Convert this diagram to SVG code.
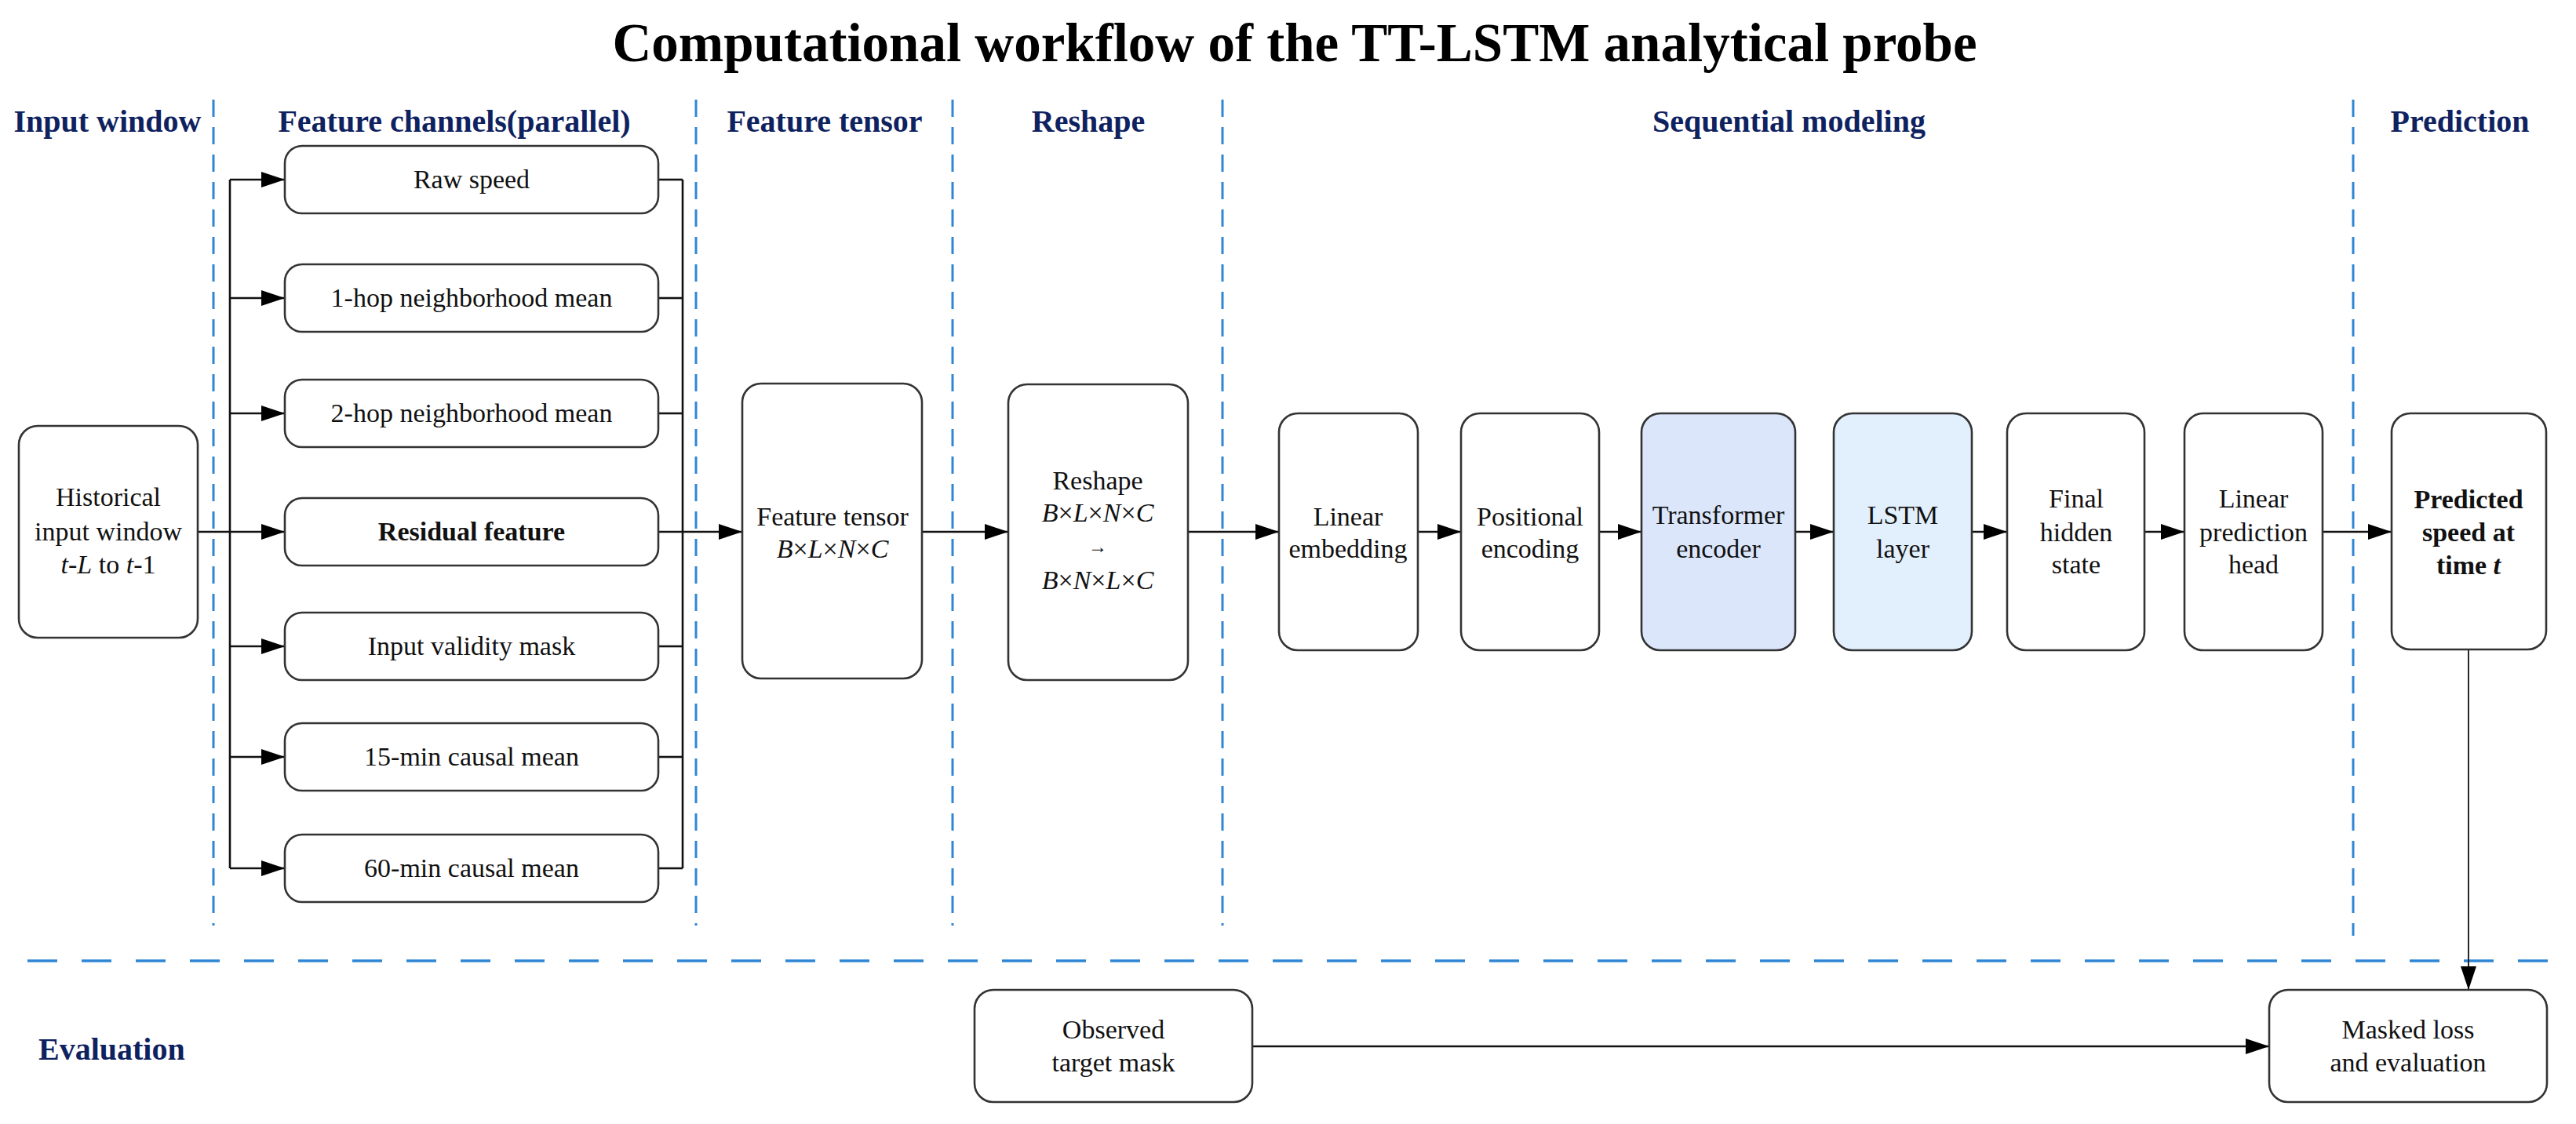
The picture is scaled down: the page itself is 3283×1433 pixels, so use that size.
<svg xmlns="http://www.w3.org/2000/svg" width="3283" height="1433" viewBox="0 0 3283 1433">
<style>
.bg{fill:#ffffff}
.box{fill:#ffffff;stroke:#333333;stroke-width:2.6}
.te{fill:#dbe6fb}
.lstm{fill:#e2effd}
.t{font-family:"Liberation Serif","Times New Roman",serif;font-size:34px;fill:#111111;text-anchor:middle}
.b{font-weight:bold}
.i{font-style:italic}
.hd{font-family:"Liberation Serif","Times New Roman",serif;font-size:40px;font-weight:bold;fill:#0f2260;text-anchor:middle}
.title{font-family:"Liberation Serif","Times New Roman",serif;font-size:69px;font-weight:bold;fill:#000000;text-anchor:middle}
.vd{stroke:#2f86d4;stroke-width:3;stroke-dasharray:22 13;fill:none}
.hdash{stroke:#2f86d4;stroke-width:3.5;stroke-dasharray:38 31;fill:none}
.ln{stroke:#111111;stroke-width:2.6;fill:none}
.ar{stroke:#111111;stroke-width:2.6;fill:none;marker-end:url(#ah)}
.arv{stroke:#111111;stroke-width:1.8;fill:none;marker-end:url(#ahv)}
</style>
<defs>
<marker id="ah" markerUnits="userSpaceOnUse" markerWidth="30" markerHeight="20" refX="30" refY="10" orient="auto">
<path d="M0,0 L30,10 L0,20 z" fill="#000000"/>
</marker>
<marker id="ahv" markerUnits="userSpaceOnUse" markerWidth="30" markerHeight="20" refX="30" refY="10" orient="auto">
<path d="M0,0 L30,10 L0,20 z" fill="#000000"/>
</marker>
</defs>
<rect class="bg" x="0" y="0" width="3283" height="1433"/>

<text class="title" x="1650" y="78">Computational workflow of the TT-LSTM analytical probe</text>

<g id="lanes">
<line class="vd" x1="272" y1="127" x2="272" y2="1180"/>
<line class="vd" x1="887" y1="127" x2="887" y2="1180"/>
<line class="vd" x1="1214" y1="127" x2="1214" y2="1180"/>
<line class="vd" x1="1558" y1="127" x2="1558" y2="1180"/>
<line class="vd" x1="2999" y1="127" x2="2999" y2="1193"/>
<line class="hdash" x1="35" y1="1225" x2="3262" y2="1225"/>
<text class="hd" x="137" y="168">Input window</text>
<text class="hd" x="579" y="168">Feature channels(parallel)</text>
<text class="hd" x="1051" y="168">Feature tensor</text>
<text class="hd" x="1387" y="168">Reshape</text>
<text class="hd" x="2280" y="168">Sequential modeling</text>
<text class="hd" x="3135" y="168">Prediction</text>
<text class="hd" x="49" y="1351" style="text-anchor:start">Evaluation</text>
</g>

<g id="connectors">
<line class="ln" x1="293" y1="229" x2="293" y2="1107"/>
<line class="ar" x1="293" y1="229" x2="363" y2="229"/>
<line class="ar" x1="293" y1="380" x2="363" y2="380"/>
<line class="ar" x1="293" y1="527" x2="363" y2="527"/>
<line class="ar" x1="252" y1="678" x2="363" y2="678"/>
<line class="ar" x1="293" y1="824" x2="363" y2="824"/>
<line class="ar" x1="293" y1="965" x2="363" y2="965"/>
<line class="ar" x1="293" y1="1107" x2="363" y2="1107"/>
<line class="ln" x1="870" y1="229" x2="870" y2="1107"/>
<line class="ln" x1="839" y1="229" x2="870" y2="229"/>
<line class="ln" x1="839" y1="380" x2="870" y2="380"/>
<line class="ln" x1="839" y1="527" x2="870" y2="527"/>
<line class="ln" x1="839" y1="824" x2="870" y2="824"/>
<line class="ln" x1="839" y1="965" x2="870" y2="965"/>
<line class="ln" x1="839" y1="1107" x2="870" y2="1107"/>
<line class="ar" x1="839" y1="678" x2="946" y2="678"/>
<line class="ar" x1="1175" y1="678" x2="1285" y2="678"/>
<line class="ar" x1="1514" y1="678" x2="1630" y2="678"/>
<line class="ar" x1="1807" y1="678" x2="1862" y2="678"/>
<line class="ar" x1="2038" y1="678" x2="2092" y2="678"/>
<line class="ar" x1="2288" y1="678" x2="2337" y2="678"/>
<line class="ar" x1="2513" y1="678" x2="2558" y2="678"/>
<line class="ar" x1="2733" y1="678" x2="2784" y2="678"/>
<line class="ar" x1="2960" y1="678" x2="3048" y2="678"/>
<line class="arv" x1="3146" y1="828" x2="3146" y2="1262"/>
<line class="ar" x1="1596" y1="1334" x2="2892" y2="1334"/>
</g>

<g id="historical">
<rect class="box" x="24" y="543" width="228" height="270" rx="24"/>
<text class="t" x="138" y="645">Historical</text>
<text class="t" x="138" y="689">input window</text>
<text class="t" x="138" y="731"><tspan class="i">t</tspan>-<tspan class="i">L</tspan> to <tspan class="i">t</tspan>-1</text>
</g>

<g id="raw-speed">
<rect class="box" x="363" y="186" width="476" height="86" rx="22"/>
<text class="t" x="601" y="240">Raw speed</text>
</g>
<g id="hop1">
<rect class="box" x="363" y="337" width="476" height="86" rx="22"/>
<text class="t" x="601" y="391">1-hop neighborhood mean</text>
</g>
<g id="hop2">
<rect class="box" x="363" y="484" width="476" height="86" rx="22"/>
<text class="t" x="601" y="538">2-hop neighborhood mean</text>
</g>
<g id="residual">
<rect class="box" x="363" y="635" width="476" height="86" rx="22"/>
<text class="t b" x="601" y="689">Residual feature</text>
</g>
<g id="validity">
<rect class="box" x="363" y="781" width="476" height="86" rx="22"/>
<text class="t" x="601" y="835">Input validity mask</text>
</g>
<g id="mean15">
<rect class="box" x="363" y="922" width="476" height="86" rx="22"/>
<text class="t" x="601" y="976">15-min causal mean</text>
</g>
<g id="mean60">
<rect class="box" x="363" y="1064" width="476" height="86" rx="22"/>
<text class="t" x="601" y="1118">60-min causal mean</text>
</g>

<g id="feature-tensor">
<rect class="box" x="946" y="489" width="229" height="376" rx="24"/>
<text class="t" x="1061" y="670">Feature tensor</text>
<text class="t i" x="1061" y="711">B<tspan font-style="normal">×</tspan>L<tspan font-style="normal">×</tspan>N<tspan font-style="normal">×</tspan>C</text>
</g>

<g id="reshape">
<rect class="box" x="1285" y="490" width="229" height="377" rx="24"/>
<text class="t" x="1399" y="624">Reshape</text>
<text class="t i" x="1399" y="665">B<tspan font-style="normal">×</tspan>L<tspan font-style="normal">×</tspan>N<tspan font-style="normal">×</tspan>C</text>
<text class="t" x="1399" y="705" style="font-size:24px">→</text>
<text class="t i" x="1399" y="751">B<tspan font-style="normal">×</tspan>N<tspan font-style="normal">×</tspan>L<tspan font-style="normal">×</tspan>C</text>
</g>

<g id="linear-embedding">
<rect class="box" x="1630" y="527" width="177" height="302" rx="24"/>
<text class="t" x="1718" y="670">Linear</text>
<text class="t" x="1718" y="711">embedding</text>
</g>
<g id="positional-encoding">
<rect class="box" x="1862" y="527" width="176" height="302" rx="24"/>
<text class="t" x="1950" y="670">Positional</text>
<text class="t" x="1950" y="711">encoding</text>
</g>
<g id="transformer-encoder">
<rect class="box te" x="2092" y="527" width="196" height="302" rx="24"/>
<text class="t" x="2190" y="668">Transformer</text>
<text class="t" x="2190" y="711">encoder</text>
</g>
<g id="lstm-layer">
<rect class="box lstm" x="2337" y="527" width="176" height="302" rx="24"/>
<text class="t" x="2425" y="668">LSTM</text>
<text class="t" x="2425" y="711">layer</text>
</g>
<g id="final-hidden">
<rect class="box" x="2558" y="527" width="175" height="302" rx="24"/>
<text class="t" x="2646" y="647">Final</text>
<text class="t" x="2646" y="690">hidden</text>
<text class="t" x="2646" y="731">state</text>
</g>
<g id="linear-head">
<rect class="box" x="2784" y="527" width="176" height="302" rx="24"/>
<text class="t" x="2872" y="647">Linear</text>
<text class="t" x="2872" y="690">prediction</text>
<text class="t" x="2872" y="731">head</text>
</g>
<g id="predicted">
<rect class="box" x="3048" y="527" width="197" height="301" rx="24"/>
<text class="t b" x="3146" y="648">Predicted</text>
<text class="t b" x="3146" y="690">speed at</text>
<text class="t b" x="3146" y="732">time <tspan class="i">t</tspan></text>
</g>

<g id="observed-mask">
<rect class="box" x="1242" y="1262" width="354" height="143" rx="24"/>
<text class="t" x="1419" y="1324">Observed</text>
<text class="t" x="1419" y="1366">target mask</text>
</g>
<g id="masked-loss">
<rect class="box" x="2892" y="1262" width="354" height="143" rx="24"/>
<text class="t" x="3069" y="1324">Masked loss</text>
<text class="t" x="3069" y="1366">and evaluation</text>
</g>
</svg>
